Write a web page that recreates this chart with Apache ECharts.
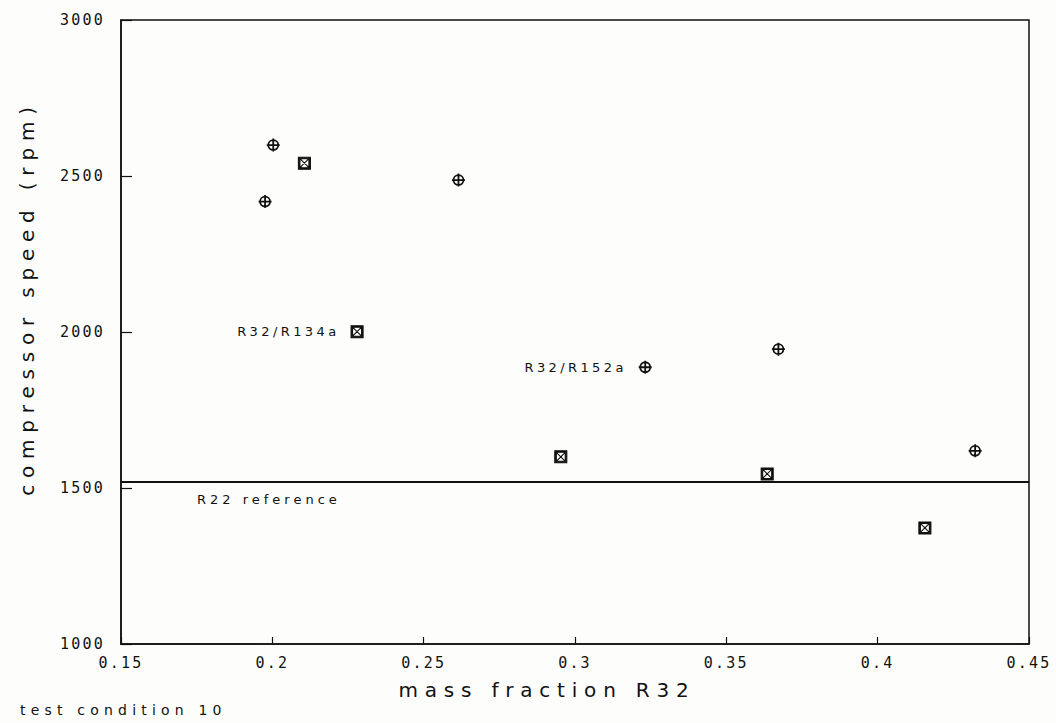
<!DOCTYPE html>
<html>
<head>
<meta charset="utf-8">
<script src="https://cdn.jsdelivr.net/npm/echarts@6/dist/echarts.min.js"></script>
<style>
html, body { margin: 0; padding: 0; background: #fdfdfb; }
#chart { width: 1056px; height: 723px; }
#chart text[style*="20px"] { letter-spacing: 6.8px; }
#chart text[style*="15px"] { letter-spacing: 2.2px; }
#chart text[style*="14px"] { letter-spacing: 5.2px; }
#chart text[style*="13px"] { letter-spacing: 3.4px; }
</style>
</head>
<body>
<div id="chart"></div>
<script>
// ---- data ----
const xTickLabels = ['0.15', '0.2', '0.25', '0.3', '0.35', '0.4', '0.45'];
const yTickLabels = ['1000', '1500', '2000', '2500', '3000'];

const r152aMass  = [0.1976, 0.2003, 0.2615, 0.3232, 0.3672, 0.4322];
const r152aSpeed = [2418, 2599, 2487, 1887, 1945, 1619];

const r134aMass  = [0.2106, 0.2280, 0.2953, 0.3635, 0.4156];
const r134aSpeed = [2541, 2001, 1600, 1545, 1372];

const r22Reference = 1520;

const xTitle = 'mass fraction R32';
const yTitle = 'compressor speed (rpm)';
const r152aName = 'R32/R152a';
const r134aName = 'R32/R134a';
const r22Label = 'R22 reference';
const noteText = 'test condition 10';
const r152aLabelIndex = 3;
const r134aLabelIndex = 1;

// ---- styling ----
const INK = '#111111';
const FONT = 'DejaVu Sans';
const MONO = 'DejaVu Sans Mono';
const circlePlus = 'path://M0,-5A5,5 0 1,1 0,5A5,5 0 1,1 0,-5Z M-6.5,0L6.5,0 M0,-6.5L0,6.5';
const boxCross = 'path://M-6,-6L6,-6L6,6L-6,6Z M-4.5,-4.5L-4.5,4.5L4.5,4.5L4.5,-4.5Z M-4.5,-4.5L4.5,4.5 M4.5,-4.5L-4.5,4.5';

function annotLabel(text, dist) {
  return { show: true, position: 'left', distance: dist, formatter: text,
           color: INK, fontFamily: FONT, fontSize: 13 };
}
function buildData(xs, ys, labelIdx, text) {
  return xs.map((x, i) => i === labelIdx
    ? { value: [x, ys[i]], label: annotLabel(text, 11) }
    : { value: [x, ys[i]] });
}
function pickLabel(list, v) {
  const s = list.find(t => Math.abs(parseFloat(t) - v) < 1e-6);
  return s === undefined ? '' : s;
}

const chart = echarts.init(document.getElementById('chart'), null,
  { renderer: 'svg', width: 1056, height: 723 });

chart.setOption({
  animation: false,
  backgroundColor: '#fdfdfb',
  grid: { left: 121, right: 27, top: 20, bottom: 79, show: true,
          borderColor: INK, borderWidth: 1.5, backgroundColor: 'transparent' },
  xAxis: {
    type: 'value', min: 0.15, max: 0.45, interval: 0.05,
    axisLine: { show: true, onZero: false, lineStyle: { color: INK, width: 1.5 } },
    axisTick: { show: true, inside: true, length: 7, lineStyle: { color: INK, width: 1.2 } },
    axisLabel: { color: INK, fontFamily: MONO, fontSize: 15, margin: 11,
                 showMinLabel: true, showMaxLabel: true,
                 formatter: v => pickLabel(xTickLabels, v) },
    splitLine: { show: false },
    name: xTitle, nameLocation: 'middle', nameGap: 36,
    nameTextStyle: { color: INK, fontFamily: FONT, fontSize: 20, padding: [0, 56, 0, 0] }
  },
  yAxis: {
    type: 'value', min: 1000, max: 3000, interval: 500,
    axisLine: { show: true, onZero: false, lineStyle: { color: INK, width: 1.5 } },
    axisTick: { show: true, inside: true, length: 11, lineStyle: { color: INK, width: 1.2 } },
    axisLabel: { color: INK, fontFamily: MONO, fontSize: 15, margin: 16,
                 showMinLabel: true, showMaxLabel: true,
                 formatter: v => pickLabel(yTickLabels, v) },
    splitLine: { show: false },
    name: yTitle, nameLocation: 'middle', nameGap: 84,
    nameTextStyle: { color: INK, fontFamily: FONT, fontSize: 20, padding: [0, 0, 0, 68] }
  },
  series: [
    {
      name: r152aName, type: 'scatter', silent: true,
      symbol: circlePlus, symbolSize: 13,
      itemStyle: { color: 'rgba(0,0,0,0)', borderColor: INK, borderWidth: 1.8, opacity: 1 },
      data: buildData(r152aMass, r152aSpeed, r152aLabelIndex, r152aName),
      markLine: {
        silent: true, symbol: ['none', 'none'], animation: false,
        lineStyle: { color: INK, width: 1.8, type: 'solid' },
        label: { show: true, position: 'insideStartBottom', formatter: r22Label,
                 distance: [76, 11], color: INK, fontFamily: FONT, fontSize: 13 },
        emphasis: { disabled: true },
        data: [{ yAxis: r22Reference }]
      }
    },
    {
      name: r134aName, type: 'scatter', silent: true,
      symbol: boxCross, symbolSize: 12,
      itemStyle: { color: INK, borderColor: INK, borderWidth: 1.1, opacity: 1 },
      data: buildData(r134aMass, r134aSpeed, r134aLabelIndex, r134aName)
    }
  ],
  graphic: [
    { type: 'text', left: 20, top: 703, silent: true,
      style: { text: noteText, fill: INK, fontFamily: FONT, fontSize: 14 } }
  ]
});

// plotter-style wide lettering on the SVG text nodes
const spacingBySize = { 20: 6.8, 15: 2.2, 14: 5.2, 13: 3.4 };
const spacingByText = { 'R22 reference': 4 };
function applySpacing() {
  document.querySelectorAll('#chart svg text').forEach(t => {
    const txt = (t.textContent || '').trim();
    const fs = Math.round(parseFloat(getComputedStyle(t).fontSize));
    let ls = spacingByText[txt];
    if (ls === undefined) ls = spacingBySize[fs];
    if (ls !== undefined) t.style.letterSpacing = ls + 'px';
  });
}
applySpacing();
chart.on('finished', applySpacing);
setTimeout(applySpacing, 50);
</script>
</body>
</html>
